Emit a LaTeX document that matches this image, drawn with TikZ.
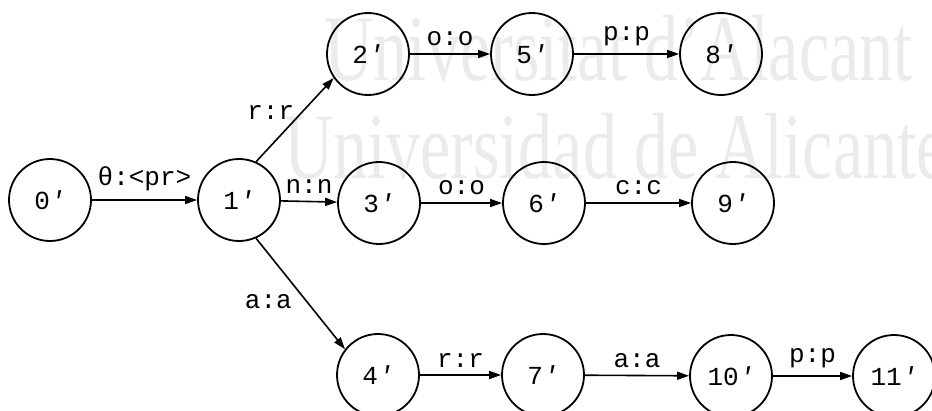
\documentclass[tikz,border=0pt]{standalone}
\usepackage{fontspec}
\setmainfont{Liberation Serif}
\newfontfamily\statefont{Liberation Mono}
\usetikzlibrary{arrows.meta}
% slanted prime for state names
\newcommand{\pr}{{\itshape ′}}
\begin{document}
\begin{tikzpicture}[x=1pt,y=-1pt,
  state/.style={circle,draw,line width=1.8pt,minimum size=82pt,inner sep=0pt,
    font=\statefont\fontsize{26}{26}\selectfont},
  trans/.style={line width=1.6pt,-{Triangle[length=12pt,width=8pt]}},
  lab/.style={font=\statefont\fontsize{26}{26}\selectfont,inner sep=2pt},
  wmark/.style={font=\fontsize{94}{94}\selectfont,text=black!8,inner sep=0pt,xscale=0.725}]
\useasboundingbox (0,0) rectangle (932,410);
% watermark
\node[wmark,anchor=base west] (wm1) at (324,80) {Universitat d’Alacant};
\node[wmark,anchor=base west] (wm2) at (284,178) {Universidad de Alicante};
% states
\node[state] (s0) at (50,200) {0\pr};
\node[state] (s1) at (239,200) {1\pr};
\node[state] (s2) at (368,54) {2\pr};
\node[state] (s3) at (379,203) {3\pr};
\node[state] (s4) at (378,375) {4\pr};
\node[state] (s5) at (532,54) {5\pr};
\node[state] (s6) at (544,203) {6\pr};
\node[state] (s7) at (543,375) {7\pr};
\node[state] (s8) at (721,54) {8\pr};
\node[state] (s9) at (733,203) {9\pr};
\node[state] (s10) at (731,376) {10\pr};
\node[state] (s11) at (894,376) {11\pr};
% transitions
\draw[trans] (s0) -- node[lab,above=6pt] {θ:<pr>} (s1);
\draw[trans] (s1.66) -- node[lab,pos=0.45,anchor=south east,xshift=6pt,yshift=2pt] {r:r} (s2.215);
\draw[trans] (s1) -- node[lab,above=5pt] {n:n} (s3);
\draw[trans] (s1.-66) -- node[lab,pos=0.5,anchor=north east,xshift=-6pt,yshift=2pt] {a:a} (s4.142);
\draw[trans] (s2) -- node[lab,above=5pt] {o:o} (s5);
\draw[trans] (s5) -- node[lab,above=5pt] {p:p} (s8);
\draw[trans] (s3) -- node[lab,above=5pt] {o:o} (s6);
\draw[trans] (s6) -- node[lab,above=5pt] {c:c} (s9);
\draw[trans] (s4) -- node[lab,above=5pt] {r:r} (s7);
\draw[trans] (s7) -- node[lab,above=5pt] {a:a} (s10);
\draw[trans] (s10) -- node[lab,above=5pt] {p:p} (s11);
\end{tikzpicture}
\end{document}
